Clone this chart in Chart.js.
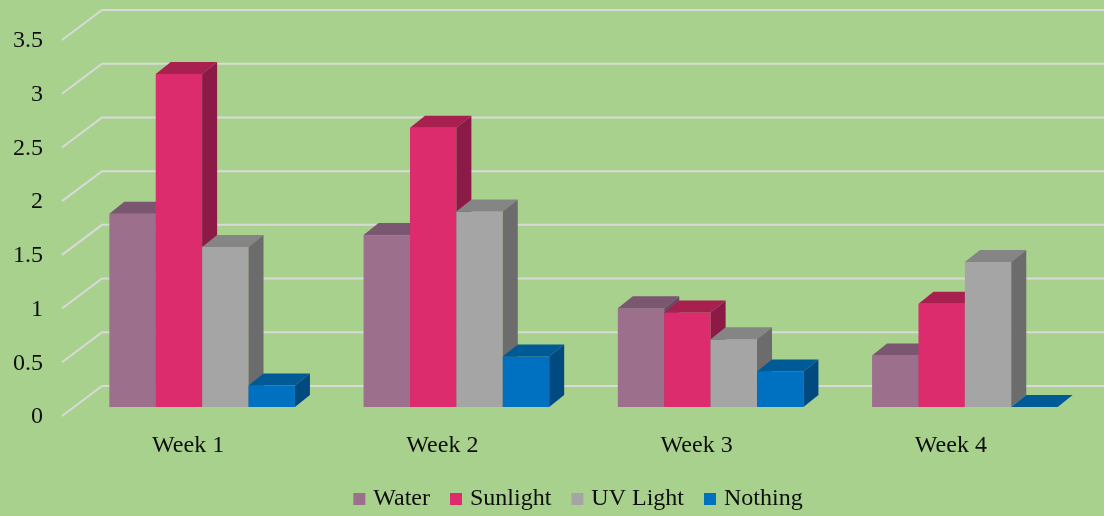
<!DOCTYPE html>
<html>
<head>
<meta charset="utf-8">
<script src="https://cdn.jsdelivr.net/npm/chart.js@4"></script>
<style>
  html, body { margin: 0; padding: 0; background: #a9d18e; }
  #wrap { width: 1104px; height: 516px; position: relative; }
</style>
</head>
<body>
<div id="wrap"><canvas id="chart"></canvas></div>
<script>
const weeks = ['Week 1', 'Week 2', 'Week 3', 'Week 4'];
const water = [1.8, 1.6, 0.92, 0.48];
const sunlight = [3.1, 2.6, 0.88, 0.96];
const uvLight = [1.49, 1.82, 0.63, 1.35];
const nothing = [0.2, 0.47, 0.33, 0];

// front, top, side shades per series
const shades = [
    ['#9c708c', '#7b5670', '#6c4a62'],
    ['#dc2c6e', '#a82050', '#8c1a46'],
    ['#a5a5a5', '#858585', '#6c6c6c'],
    ['#0070c0', '#005a96', '#004a80']
];

const serif = '"Liberation Serif", "Times New Roman", serif';
const textColor = '#0d0d0d';
const depth = { dx: 15, dy: -12 };       // bar depth
const floorFront = { dx: -13, dy: 9 };   // floor front edge from bar plane
const floorBack = { dx: 27, dy: -21 };   // back wall from bar plane

const bar3d = {
    id: 'bar3d',
    beforeDatasetsDraw(chart) {
        const { ctx, chartArea, scales } = chart;
        const y = scales.y;

        ctx.save();
        ctx.strokeStyle = '#d9d9d9';
        ctx.lineWidth = 2;
        y.ticks.forEach(t => {
            const py = y.getPixelForValue(t.value);
            ctx.beginPath();
            ctx.moveTo(chartArea.left + floorFront.dx, py + floorFront.dy);
            ctx.lineTo(chartArea.left + floorBack.dx, py + floorBack.dy);
            ctx.lineTo(chart.width, py + floorBack.dy);
            ctx.stroke();
        });

        weeks.forEach((_, i) => {
            chart.data.datasets.forEach((ds, d) => {
                const el = chart.getDatasetMeta(d).data[i];
                if (!el) return;
                const { x, y: top, base, width } = el.getProps(['x', 'y', 'base', 'width'], true);
                const l = x - width / 2, r = x + width / 2;
                const [front, topC, side] = shades[d];

                ctx.fillStyle = front;
                ctx.fillRect(l, top, width, base - top);

                ctx.fillStyle = topC;
                ctx.beginPath();
                ctx.moveTo(l, top);
                ctx.lineTo(l + depth.dx, top + depth.dy);
                ctx.lineTo(r + depth.dx, top + depth.dy);
                ctx.lineTo(r, top);
                ctx.closePath();
                ctx.fill();

                ctx.fillStyle = side;
                ctx.beginPath();
                ctx.moveTo(r, top);
                ctx.lineTo(r + depth.dx, top + depth.dy);
                ctx.lineTo(r + depth.dx, base + depth.dy);
                ctx.lineTo(r, base);
                ctx.closePath();
                ctx.fill();
            });
        });
        ctx.restore();
        return false;
    }
};

// legend sits lower and a bit right of centre
const legendSpace = {
    id: 'legendSpace',
    beforeInit(chart) {
        const fit = chart.legend.fit;
        chart.legend.fit = function () {
            fit.bind(chart.legend)();
            this.height = 53;
        };
    },
    afterLayout(chart) {
        chart.legend.left += 34;
        chart.legend.right += 34;
    }
};

const ctx = document.getElementById('chart');
new Chart(ctx, {
    type: 'bar',
    data: {
        labels: weeks,
        datasets: [
            { label: 'Water', data: water, backgroundColor: shades[0][0] },
            { label: 'Sunlight', data: sunlight, backgroundColor: shades[1][0] },
            { label: 'UV Light', data: uvLight, backgroundColor: shades[2][0] },
            { label: 'Nothing', data: nothing, backgroundColor: shades[3][0] }
        ]
    },
    options: {
        responsive: true,
        maintainAspectRatio: false,
        animation: false,
        datasets: { bar: { categoryPercentage: 0.73, barPercentage: 1, borderWidth: 0 } },
        layout: { padding: { top: 31, right: 12, left: 0, bottom: 0 } },
        plugins: {
            legend: {
                position: 'bottom',
                labels: {
                    usePointStyle: true,
                    pointStyle: 'rect',
                    boxWidth: 4,
                    boxHeight: 12,
                    padding: 24,
                    color: textColor,
                    font: { family: serif, size: 24 }
                }
            },
            tooltip: { enabled: false }
        },
        scales: {
            x: {
                grid: { display: false, drawTicks: false },
                border: { display: false },
                ticks: { color: textColor, font: { family: serif, size: 24 }, labelOffset: -14, padding: 24 },
                afterFit(scale) { scale.height = 56; }
            },
            y: {
                min: 0,
                max: 3.5,
                grid: { display: false, drawTicks: false },
                border: { display: false },
                ticks: {
                    stepSize: 0.5,
                    color: textColor,
                    font: { family: serif, size: 24 },
                    padding: 32,
                    labelOffset: 10,
                    callback: v => String(v)
                },
                afterFit(scale) {
                    scale.width = 75;
                    scale.paddingTop = 0;
                    scale.paddingBottom = 0;
                }
            }
        }
    },
    plugins: [bar3d, legendSpace]
});
</script>
</body>
</html>
